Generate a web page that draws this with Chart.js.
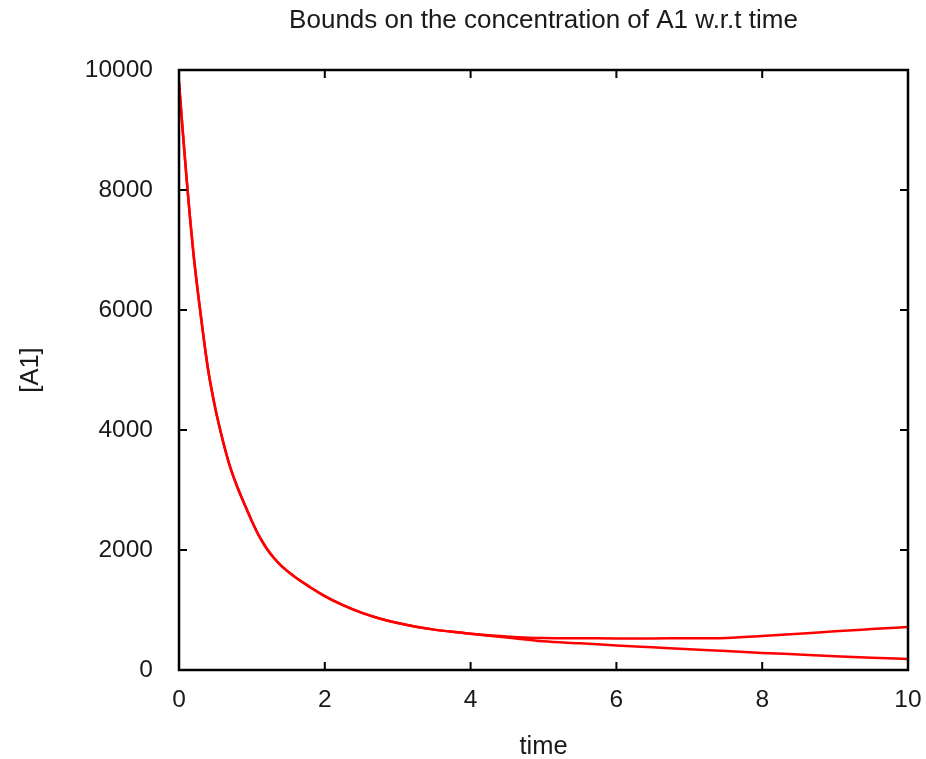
<!DOCTYPE html>
<html>
<head>
<meta charset="utf-8">
<script src="https://cdn.jsdelivr.net/npm/chart.js@4"></script>
<style>
  body { margin: 0; background: #fff; }
</style>
</head>
<body>
<canvas id="myChart" width="926" height="759"></canvas>
<script>
// data
const time = [0, 0.05, 0.1, 0.15, 0.2, 0.3, 0.4, 0.5, 0.6, 0.7, 0.8, 0.9, 1.0, 1.1, 1.2, 1.3, 1.4, 1.6, 1.8, 2.0,
  2.25, 2.5, 2.75, 3.0, 3.25, 3.5, 3.75, 4.0, 4.5, 5.0, 5.5, 6.0, 6.5, 7.0, 7.5, 8.0, 8.5, 9.0, 9.5, 10.0];
const upperA1 = [9800, 9000, 8250, 7550, 6920, 5900, 5000, 4350, 3830, 3390, 3050, 2760, 2480, 2230, 2030, 1870, 1740, 1540, 1380, 1230,
  1080, 955, 858, 782, 722, 673, 636, 605, 560, 532, 528, 527, 527, 528, 535, 565, 605, 645, 682, 718];
const lowerA1 = [9800, 9000, 8250, 7550, 6920, 5900, 5000, 4350, 3830, 3390, 3050, 2760, 2480, 2230, 2030, 1870, 1740, 1540, 1380, 1230,
  1080, 955, 858, 782, 722, 673, 636, 605, 540, 478, 445, 410, 378, 346, 316, 285, 258, 230, 205, 182];
const xTicks = [0, 2, 4, 6, 8, 10];
const yTicks = [0, 2000, 4000, 6000, 8000, 10000];

const FONT = "'Liberation Sans', Arial, sans-serif";
const TEXT = "#1a1a1a";

/* gnuplot-like frame with inward ticks on all four sides */
const framePlugin = {
  id: "frame",
  afterDraw(chart) {
    const { ctx, chartArea: a, scales } = chart;
    ctx.save();
    ctx.strokeStyle = "#000";
    ctx.lineWidth = 2;
    ctx.beginPath();
    xTicks.forEach((v) => {
      const px = scales.x.getPixelForValue(v);
      ctx.moveTo(px, a.bottom); ctx.lineTo(px, a.bottom - 8);
      ctx.moveTo(px, a.top); ctx.lineTo(px, a.top + 8);
    });
    yTicks.forEach((v) => {
      const py = scales.y.getPixelForValue(v);
      ctx.moveTo(a.left, py); ctx.lineTo(a.left + 8, py);
      ctx.moveTo(a.right, py); ctx.lineTo(a.right - 8, py);
    });
    ctx.stroke();
    ctx.lineWidth = 2.5;
    ctx.strokeRect(a.left, a.top, a.right - a.left, a.bottom - a.top);
    ctx.restore();
  }
};

const ctx = document.getElementById("myChart");
const myChart = new Chart(ctx, {
  type: "line",
  data: {
    datasets: [
      {
        label: "upper bound",
        data: time.map((t, i) => ({ x: t, y: upperA1[i] })),
        borderColor: "#ff0000",
        borderWidth: 2.5,
        pointRadius: 0,
        cubicInterpolationMode: "monotone",
      },
      {
        label: "lower bound",
        data: time.map((t, i) => ({ x: t, y: lowerA1[i] })),
        borderColor: "#ff0000",
        borderWidth: 2.5,
        pointRadius: 0,
        cubicInterpolationMode: "monotone",
      },
    ],
  },
  options: {
    responsive: false,
    animation: false,
    devicePixelRatio: 1,
    layout: { padding: { left: 0, right: 18, top: 0, bottom: 0 } },
    plugins: {
      legend: { display: false },
      tooltip: { enabled: false },
      title: {
        display: true,
        fullSize: false,
        text: "Bounds on the concentration of A1 w.r.t time",
        color: TEXT,
        font: { family: FONT, size: 26, weight: "normal" },
        padding: { top: 5.4, bottom: 33.4 },
      },
    },
    scales: {
      x: {
        type: "linear",
        min: 0,
        max: 10,
        afterBuildTicks: (s) => { s.ticks = xTicks.map((v) => ({ value: v })); },
        afterFit: (s) => { s.height = 89; s.paddingLeft = 0; s.paddingRight = 0; },
        grid: { display: false, drawTicks: false },
        border: { display: false },
        ticks: {
          color: TEXT, font: { family: FONT, size: 24.5 }, padding: 16, maxRotation: 0,
          callback: (v) => String(v),
        },
        title: {
          display: true,
          text: "time",
          color: TEXT,
          font: { family: FONT, size: 25.5 },
          padding: { top: 0, bottom: -3 },
        },
      },
      y: {
        min: 0,
        max: 10000,
        afterBuildTicks: (s) => { s.ticks = yTicks.map((v) => ({ value: v })); },
        afterFit: (s) => { s.width = 179; },
        grid: { display: false, drawTicks: false },
        border: { display: false },
        ticks: {
          color: TEXT, font: { family: FONT, size: 24.5 }, padding: 26,
          callback: (v) => String(v),
        },
        title: {
          display: true,
          text: "[A1]",
          color: TEXT,
          font: { family: FONT, size: 25.5 },
          padding: { top: 15.5, bottom: 0 },
        },
      },
    },
  },
  plugins: [framePlugin],
});
myChart;
</script>
</body>
</html>
